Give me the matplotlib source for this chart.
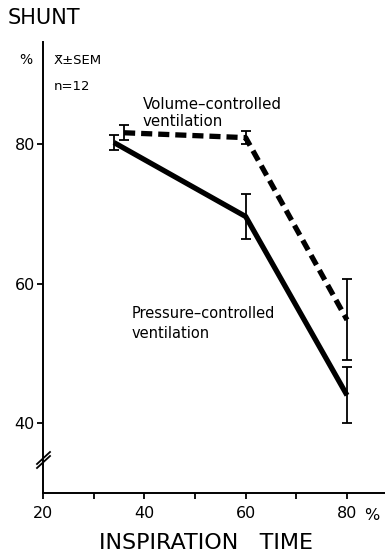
import matplotlib
matplotlib.use("Agg")
import matplotlib.pyplot as plt
from matplotlib.lines import Line2D

# Shunt fraction vs. inspiration time, mean ± SEM (n=12)
insp_pressure = [34, 60, 80]
shunt_pressure = [80.2, 69.6, 44.0]
sem_pressure = [1.1, 3.2, 4.0]

insp_volume = [36, 60, 80]
shunt_volume = [81.6, 80.9, 54.8]
sem_volume = [1.1, 0.9, 5.8]

x_ticks = [20, 30, 40, 50, 60, 70, 80]
x_ticklabels = ["20", "", "40", "", "60", "", "80"]
y_ticks = [40, 60, 80]

plt.rcParams["font.family"] = ["DejaVu Sans"]
plt.rcParams["lines.scale_dashes"] = False

W, H = 385, 556
fig = plt.figure(figsize=(W / 100, H / 100), dpi=100)
ax = fig.add_axes([43 / W, 1 - 493 / H, 1 - 43 / W, (493 - 42) / H])

ax.set_xlim(20, 87.5)
ax.set_ylim(30, 94.6)

# error bars
ax.errorbar(insp_pressure, shunt_pressure, yerr=sem_pressure, fmt="none",
            ecolor="black", elinewidth=1.3, capsize=3.6, capthick=1.3, zorder=2)
ax.errorbar(insp_volume, shunt_volume, yerr=sem_volume, fmt="none",
            ecolor="black", elinewidth=1.3, capsize=3.6, capthick=1.3, zorder=2)

# mean curves
ax.plot(insp_pressure, shunt_pressure, color="black", lw=3.8,
        solid_capstyle="butt", solid_joinstyle="miter", zorder=3)
ax.plot(insp_volume, shunt_volume, color="black", lw=3.8,
        dashes=(8, 4.3), dash_capstyle="butt", zorder=3)

for s in ("top", "right"):
    ax.spines[s].set_visible(False)
for s in ("left", "bottom"):
    ax.spines[s].set_linewidth(1.4)

ax.set_xticks(x_ticks)
ax.set_xticklabels(x_ticklabels)
ax.set_yticks(y_ticks)
ax.tick_params(axis="both", direction="out", length=4.3, width=1.3,
               labelsize=11.5, colors="black")
ax.tick_params(axis="x", pad=5)
ax.tick_params(axis="y", pad=1.5)

# axis break marks on the y axis (figure pixel coordinates)
for off in (0, 4):
    fig.add_artist(Line2D([37 / W, 50 / W],
                          [1 - (468 - off) / H, 1 - (456 - off) / H],
                          color="black", lw=1.3))

# annotations
fig.text(8 / W, 1 - 18 / H, "SHUNT", fontsize=15, va="center", ha="left")
fig.text(26 / W, 1 - 60 / H, "%", fontsize=10, va="center", ha="center")
fig.text(54 / W, 1 - 60 / H, "X\u0304±SEM", fontsize=9.5,
         va="center", ha="left")
fig.text(54 / W, 1 - 86 / H, "n=12", fontsize=9.5, va="center", ha="left")
fig.text(143 / W, 1 - 105 / H, "Volume–controlled", fontsize=10.8,
         va="center", ha="left")
fig.text(143 / W, 1 - 122 / H, "ventilation", fontsize=10.8,
         va="center", ha="left")
fig.text(132 / W, 1 - 313 / H, "Pressure–controlled", fontsize=10.5,
         va="center", ha="left")
fig.text(132 / W, 1 - 333 / H, "ventilation", fontsize=10.5,
         va="center", ha="left")
fig.text(372 / W, 1 - 515 / H, "%", fontsize=11.5, va="center", ha="center")
fig.text(206 / W, 1 - 543 / H, "INSPIRATION   TIME", fontsize=16,
         va="center", ha="center")

fig.savefig("out.png", dpi=100)
